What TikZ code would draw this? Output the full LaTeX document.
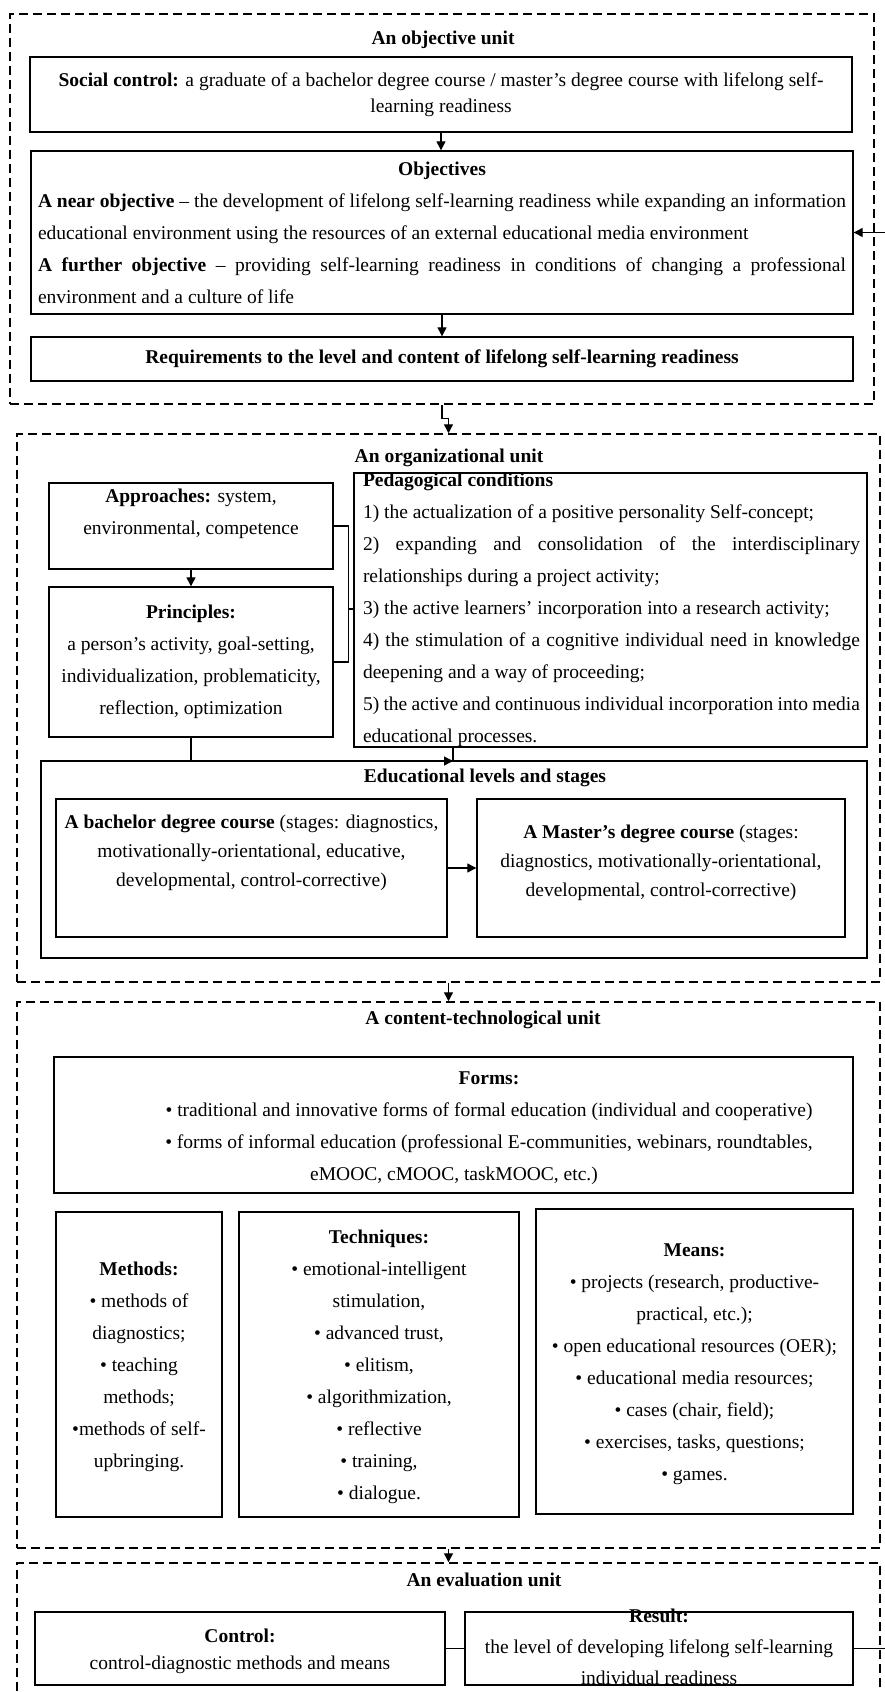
\documentclass[tikz,border=0pt]{standalone}
\usepackage{fontspec}
\setmainfont{Liberation Serif}
\usepackage{tikz}
\usetikzlibrary{arrows.meta,calc}
\newcommand{\fsz}[1]{\fontsize{19.5}{#1}\selectfont}
\tikzstyle{unit}=[rectangle,draw=black,line width=1.5pt,
  dash pattern=on 9pt off 5pt,inner sep=0pt]
\tikzstyle{blk}=[rectangle,draw=black,line width=1.4pt,inner sep=0pt]
\tikzstyle{txt}=[align=center,inner sep=0pt,font=\fsz{32}]
\tikzstyle{jtxt}=[align=justify,inner sep=0pt,font=\fsz{32}]
\tikzstyle{ttl}=[inner sep=0pt,font=\fsz{32}\bfseries]
\tikzstyle{arr}=[line width=1.3pt,-{Triangle[length=9pt,width=9pt]}]
\tikzstyle{ln}=[line width=1.3pt]
\tikzstyle{none}=[]

\begin{document}
\begin{tikzpicture}[x=1pt,y=-1pt]
            \fill [white] (0, 0) rectangle (885, 1692);
            \useasboundingbox (0, 0) rectangle (885, 1692);
            % units
            \node [style=unit, minimum width=864, minimum height=390] (u1) at (442, 209) {};
            \node [style=unit, minimum width=863, minimum height=548] (u2) at (448.5, 708) {};
            \node [style=unit, minimum width=863, minimum height=546] (u3) at (448.5, 1275) {};
            \node [style=unit, minimum width=863, minimum height=157] (u4) at (448.5, 1641.5) {};
            % objective unit
            \node [style=ttl] (t1) at (443, 40) {An objective unit};
            \node [style=blk, minimum width=822, minimum height=75] (soc) at (441, 94.5) {};
            \node [style=txt, font=\fsz{26}] at (soc) {\textbf{Social control:} a graduate of a bachelor degree course / master’s degree course with lifelong self-\\learning readiness};
            \node [style=blk, minimum width=822, minimum height=163] (obj) at (442, 232.5) {};
            \node [style=jtxt, text width=808] at (442, 233) {\noindent\makebox[808pt]{\textbf{Objectives}}\newline
              \textbf{A near objective} -- the development of lifelong self-learning readiness while expanding an information\linebreak
              educational environment using the resources of an external educational media environment\newline
              \textbf{A further objective} -- providing self-learning readiness in conditions of changing a professional\linebreak
              environment and a culture of life};
            \node [style=blk, minimum width=822, minimum height=44] (req) at (442, 359) {};
            \node [style=ttl] at (req) {Requirements to the level and content of lifelong self-learning readiness};
            % organizational unit
            \node [style=ttl] (t2) at (449, 458) {An organizational unit};
            \node [style=blk, minimum width=284, minimum height=86] (appr) at (191, 526) {};
            \node [style=txt] at (191, 514) {\textbf{Approaches:} system,\\environmental, competence};
            \node [style=blk, minimum width=284, minimum height=150] (princ) at (191, 662) {};
            \node [style=txt] at (princ) {\textbf{Principles:}\\a person’s activity, goal-setting,\\individualization, problematicity,\\reflection, optimization};
            \node [style=blk, minimum width=513, minimum height=274] (ped) at (610.5, 610) {};
            \node [style=jtxt, text width=497] at (611.5, 610) {\noindent\textbf{Pedagogical conditions}\newline
              1) the actualization of a positive personality Self-concept;\newline
              2) expanding and consolidation of the interdisciplinary\linebreak
              relationships during a project activity;\newline
              3) the active learners’ incorporation into a research activity;\newline
              4) the stimulation of a cognitive individual need in knowledge\linebreak
              deepening and a way of proceeding;\newline
              5) the active and continuous individual incorporation into media\linebreak
              educational processes.};
            \node [style=blk, minimum width=826, minimum height=197] (edu) at (454, 859.5) {};
            \node [style=ttl] at (485, 778) {Educational levels and stages};
            \node [style=blk, minimum width=391, minimum height=138] (bach) at (251.5, 868) {};
            \node [style=txt, font=\fsz{29}] at (251.5, 853) {\textbf{A bachelor degree course} (stages: diagnostics,\\motivationally-orientational, educative,\\developmental, control-corrective)};
            \node [style=blk, minimum width=368, minimum height=138] (mast) at (661, 868) {};
            \node [style=txt, font=\fsz{29}] at (661, 863) {\textbf{A Master’s degree course} (stages:\\diagnostics, motivationally-orientational,\\developmental, control-corrective)};
            \coordinate (brk) at (348, 609);
            \coordinate (edIn) at (453, 761);
            % content-technological unit
            \node [style=ttl] (t3) at (483, 1020) {A content-technological unit};
            \node [style=blk, minimum width=799, minimum height=136] (forms) at (453.5, 1125) {};
            \node [style=txt] at (489, 1128) {\textbf{Forms:}\\• traditional and innovative forms of formal education (individual and cooperative)\\• forms of informal education (professional E-communities, webinars, roundtables,\\\hspace*{-70pt}eMOOC, cMOOC, taskMOOC, etc.)};
            \node [style=blk, minimum width=166, minimum height=305] (meth) at (139, 1364.5) {};
            \node [style=txt] at (139, 1367) {\textbf{Methods:}\\• methods of\\diagnostics;\\• teaching\\methods;\\•methods of self-\\upbringing.};
            \node [style=blk, minimum width=280, minimum height=305] (tech) at (379, 1364.5) {};
            \node [style=txt] at (379, 1367) {\textbf{Techniques:}\\• emotional-intelligent\\stimulation,\\• advanced trust,\\• elitism,\\• algorithmization,\\• reflective\\• training,\\• dialogue.};
            \node [style=blk, minimum width=317, minimum height=305] (means) at (694.5, 1361.5) {};
            \node [style=txt] at (694.5, 1364) {\textbf{Means:}\\• projects (research, productive-\\practical, etc.);\\• open educational resources (OER);\\• educational media resources;\\• cases (chair, field);\\• exercises, tasks, questions;\\• games.};
            % evaluation unit
            \node [style=ttl] (t4) at (484, 1580) {An evaluation unit};
            \node [style=blk, minimum width=410, minimum height=73] (ctrl) at (240, 1648.5) {};
            \node [style=txt, font=\fsz{27}] at (240, 1651) {\textbf{Control:}\\control-diagnostic methods and means};
            \node [style=blk, minimum width=388, minimum height=73] (res) at (659, 1648.5) {};
            \node [style=txt, font=\fsz{31}] at (659, 1647) {\textbf{Result:}\\the level of developing lifelong self-learning\\individual readiness};
            \coordinate (fb) at (887, 900);
            % connectors
            \draw [style=arr] (soc.south) to (soc.south |- obj.north);
            \draw [style=arr] (obj.south) to (req.north);
            \draw [style=arr] (u1.south) -- ++(0, 14) -| (u2.north);
            \draw [style=arr] (appr.south) to (princ.north);
            \draw [style=ln] (appr.east) -- ++(15, 0) |- (princ.east);
            \draw [style=ln] (brk) to (brk -| ped.west);
            \draw [style=arr] (princ.south) |- (edIn);
            \draw [style=ln] (edIn |- ped.south) to (edIn);
            \draw [style=arr] (bach.east) to (mast.west);
            \draw [style=arr] (u2.south) to (u3.north);
            \draw [style=arr] (u3.south) to (u4.north);
            \draw [style=ln] (ctrl.east) to (res.west);
            \draw [style=arr] (res.east) -| (fb) |- (obj.east);
\end{tikzpicture}
\end{document}
